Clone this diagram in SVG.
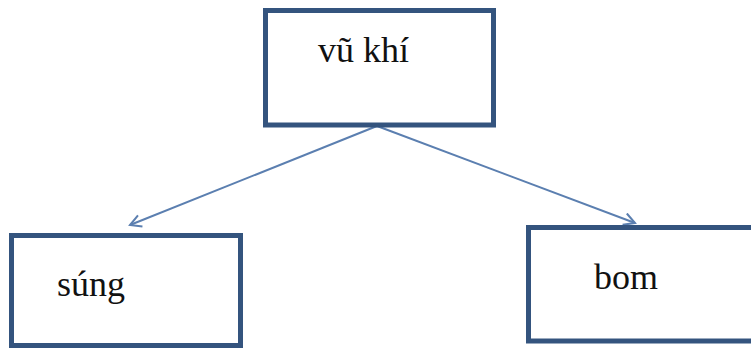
<svg xmlns="http://www.w3.org/2000/svg" width="751" height="350" viewBox="0 0 751 350">
<style>
.box{fill:#fff;stroke:#34547e;stroke-width:5}
.lbl{font-family:"Liberation Serif","Times New Roman",serif;font-size:36px;fill:#111}
.edge{stroke:#5b7fb0;stroke-width:2;fill:none;marker-end:url(#ah)}
</style>
<defs>
<marker id="ah" viewBox="0 0 14 14" refX="12" refY="7" markerWidth="14" markerHeight="14" markerUnits="userSpaceOnUse" orient="auto">
<polyline points="1,1 12,7 1,13" fill="none" stroke="#5b7fb0" stroke-width="2"/>
</marker>
</defs>
<rect width="751" height="350" fill="#fff"/>
<g id="connectors">
<line class="edge" x1="377" y1="126" x2="130" y2="225"/>
<line class="edge" x1="377" y1="126" x2="635" y2="223"/>
</g>
<g id="node-vukhi">
<rect class="box" x="265.5" y="10.5" width="228" height="114.5"/>
<text class="lbl" x="318" y="62">vũ khí</text>
</g>
<g id="node-sung">
<rect class="box" x="11.5" y="235.5" width="229" height="110"/>
<text class="lbl" x="57" y="296">súng</text>
</g>
<g id="node-bom">
<rect class="box" x="528.5" y="227.5" width="240" height="113.5"/>
<text class="lbl" x="594" y="289">bom</text>
</g>
</svg>
